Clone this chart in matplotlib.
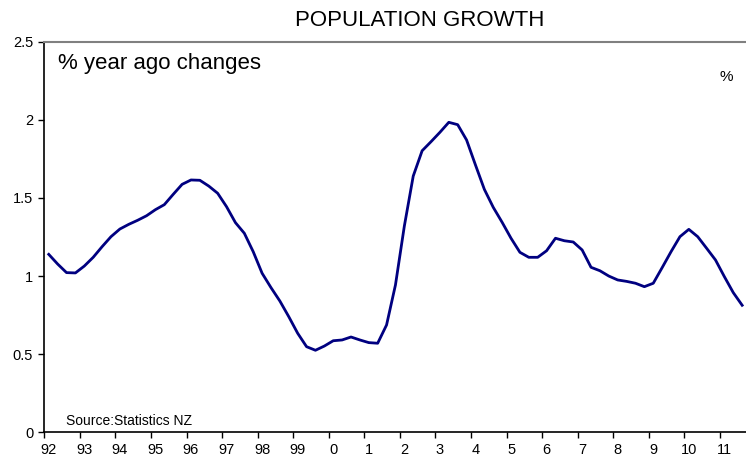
import numpy as np
import matplotlib
matplotlib.use("Agg")
import matplotlib.pyplot as plt

plt.rcParams['font.family'] = ['Liberation Sans', 'DejaVu Sans']

# quarterly annual % change in population, 1992Q1 .. 2011Q3
growth = [
    1.139, 1.077, 1.022, 1.020, 1.064, 1.120, 1.188, 1.252,   # 92-93
    1.301, 1.331, 1.357, 1.386, 1.425, 1.457, 1.523, 1.587,   # 94-95
    1.615, 1.613, 1.576, 1.530, 1.444, 1.342, 1.274, 1.156,   # 96-97
    1.018, 0.926, 0.840, 0.740, 0.634, 0.548, 0.525, 0.552,   # 98-99
    0.586, 0.591, 0.610, 0.591, 0.574, 0.570, 0.687, 0.943,   # 00-01
    1.320, 1.640, 1.802, 1.860, 1.920, 1.984, 1.969, 1.871,   # 02-03
    1.711, 1.555, 1.440, 1.344, 1.242, 1.152, 1.120, 1.120,   # 04-05
    1.162, 1.242, 1.226, 1.218, 1.167, 1.056, 1.034, 1.000,   # 06-07
    0.975, 0.966, 0.954, 0.932, 0.954, 1.054, 1.156, 1.252,   # 08-09
    1.299, 1.252, 1.178, 1.103, 0.996, 0.894, 0.813,          # 10-11
]
year_labels = ["92", "93", "94", "95", "96", "97", "98", "99", "0", "1",
               "2", "3", "4", "5", "6", "7", "8", "9", "10", "11"]
y_ticks = [0, 0.5, 1, 1.5, 2, 2.5]
y_tick_labels = ["0", "0.5", "1", "1.5", "2", "2.5"]

n = len(growth)
x = np.arange(n)

fig = plt.figure(figsize=(7.46, 4.57), dpi=100)
ax = fig.add_axes([44.3 / 746, 24.7 / 457, (n * 8.89) / 746, 390.6 / 457])

ax.plot(x, growth, color="#000080", lw=2.0, solid_joinstyle="round")

ax.set_xlim(-0.5, n - 0.5)
ax.set_ylim(0, 2.5)

# tick marks on year boundaries, labels on first quarter of each year
ax.set_xticks(np.arange(len(year_labels)) * 4 - 0.5)
ax.set_xticklabels([])
ax.set_xticks(np.arange(len(year_labels)) * 4, minor=True)
ax.set_xticklabels(year_labels, minor=True)
ax.tick_params(axis="x", which="major", direction="out", length=4, width=1)
ax.tick_params(axis="x", which="minor", length=0, pad=7.5, labelsize=10.5)

ax.set_yticks(y_ticks)
ax.set_yticklabels(y_tick_labels)
ax.tick_params(axis="y", direction="out", length=4, width=1, labelsize=10.5, pad=4)

ax.spines["right"].set_visible(False)
ax.spines["top"].set_color("#808080")
ax.spines["top"].set_linewidth(1.5)
ax.spines["left"].set_linewidth(1.2)
ax.spines["bottom"].set_linewidth(1.2)

fig.text(420 / 746, 1 - 20 / 457, "POPULATION GROWTH", ha="center", va="center", fontsize=16)
fig.text(58 / 746, 1 - 63 / 457, "% year ago changes", ha="left", va="center", fontsize=16)
fig.text(726 / 746, 1 - 77 / 457, "%", ha="center", va="center", fontsize=11)
fig.text(66 / 746, 1 - 421 / 457, "Source:Statistics NZ", ha="left", va="center", fontsize=10)

fig.savefig("out.png", dpi=100)
